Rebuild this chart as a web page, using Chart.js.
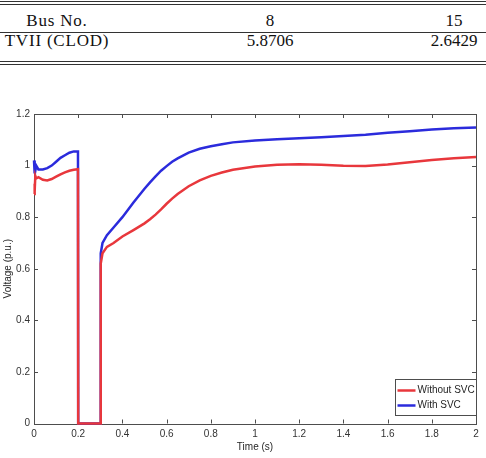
<!DOCTYPE html>
<html>
<head>
<meta charset="utf-8">
<script src="https://cdn.jsdelivr.net/npm/chart.js@4.4.0/dist/chart.umd.min.js"></script>
<style>
    html, body { margin: 0; padding: 0; background: #fff; }
    #page { position: relative; width: 486px; height: 458px; overflow: hidden; }
    .rule { position: absolute; left: 0; width: 486px; height: 1px; background: #333; }
    .cell { position: absolute; font-family: "Liberation Serif", serif; font-size: 17px; line-height: 20px;
            color: #111; white-space: nowrap; transform: translateX(-50%); }
    #chartBox { position: absolute; left: 0; top: 70px; }
</style>
</head>
<body>
<div id="page">
    <div class="rule" style="top:1px"></div>
    <div class="rule" style="top:4px"></div>
    <div id="tableCells"></div>
    <div class="rule" style="top:32px"></div>
    <div class="rule" style="top:61px"></div>
    <div class="rule" style="top:64px"></div>
    <div id="chartBox"><canvas id="voltageChart" width="486" height="388"></canvas></div>
</div>
<script>
// table above the figure
const tableHeader = ['Bus No.', '8', '15'];
const tableRow = ['TVII (CLOD)', '5.8706', '2.6429'];

// bus voltage after the fault
const timeS = [0, 0.002, 0.004, 0.006, 0.01, 0.02, 0.04, 0.06, 0.08, 0.1, 0.12, 0.14, 0.16, 0.18, 0.199,
    0.2, 0.25, 0.3, 0.301, 0.303, 0.31, 0.33, 0.36, 0.4, 0.45, 0.5, 0.525, 0.55, 0.575, 0.6, 0.625, 0.65,
    0.7, 0.75, 0.8, 0.85, 0.9, 1.0, 1.1, 1.2, 1.3, 1.4, 1.5, 1.6, 1.7, 1.8, 1.9, 2.0];
const withoutSvc = [0.89, 0.93, 0.90, 0.96, 0.95, 0.955, 0.945, 0.942, 0.948, 0.957, 0.966, 0.974, 0.98, 0.984, 0.986,
    0, 0, 0, 0.15, 0.62, 0.66, 0.685, 0.70, 0.725, 0.75, 0.776, 0.792, 0.81, 0.83, 0.852, 0.872, 0.89,
    0.92, 0.943, 0.96, 0.973, 0.984, 0.996, 1.003, 1.005, 1.003, 0.999, 0.998, 1.004, 1.013, 1.022, 1.028, 1.033];
const withSvc = [1.02, 0.97, 1.01, 0.98, 1.0, 0.985, 0.985, 0.99, 1.0, 1.015, 1.03, 1.04, 1.05, 1.055, 1.055,
    0, 0, 0, 0.41, 0.66, 0.70, 0.73, 0.76, 0.80, 0.857, 0.91, 0.935, 0.958, 0.98, 0.998, 1.015, 1.028,
    1.05, 1.065, 1.075, 1.083, 1.09, 1.097, 1.102, 1.106, 1.11, 1.115, 1.12, 1.127, 1.133, 1.14, 1.145, 1.148];
const seriesLabels = ['Without SVC', 'With SVC'];

const colCenters = [57, 270, 454];
const cells = document.getElementById('tableCells');
[[tableHeader, 11], [tableRow, 31]].forEach(([row, top]) => {
    row.forEach((txt, i) => {
        const d = document.createElement('div');
        d.className = 'cell';
        d.style.left = colCenters[i] + 'px';
        d.style.top = top + 'px';
        if (i === 0) d.style.letterSpacing = '0.8px';
        d.textContent = txt;
        cells.appendChild(d);
    });
});

const axisColor = '#4d4d4d';
const labelFont = { family: '"Liberation Sans", Arial, sans-serif', size: 10 };

// MATLAB style box, inward ticks and legend
const boxPlugin = {
    id: 'matlabBox',
    beforeDatasetsDraw(chart) {
        const { ctx, chartArea: a, scales } = chart;
        ctx.save();
        ctx.strokeStyle = axisColor;
        ctx.lineWidth = 1;
        ctx.strokeRect(Math.round(a.left) + 0.5, Math.round(a.top) + 0.5,
            Math.round(a.right - a.left), Math.round(a.bottom - a.top));
        ctx.beginPath();
        scales.x.ticks.forEach(t => {
            const px = Math.round(scales.x.getPixelForValue(t.value)) + 0.5;
            ctx.moveTo(px, a.bottom); ctx.lineTo(px, a.bottom - 4);
            ctx.moveTo(px, a.top); ctx.lineTo(px, a.top + 4);
        });
        scales.y.ticks.forEach(t => {
            const py = Math.round(scales.y.getPixelForValue(t.value)) + 0.5;
            ctx.moveTo(a.left, py); ctx.lineTo(a.left + 4, py);
            ctx.moveTo(a.right, py); ctx.lineTo(a.right - 4, py);
        });
        ctx.stroke();
        ctx.restore();
    },
    afterDatasetsDraw(chart) {
        const { ctx, chartArea: a } = chart;
        const w = 81, h = 36;
        const x0 = Math.round(a.right - w) + 0.5, y0 = Math.round(a.bottom - 9 - h) + 0.5;
        ctx.save();
        ctx.fillStyle = '#fff';
        ctx.fillRect(x0, y0, w, h);
        ctx.strokeStyle = axisColor;
        ctx.lineWidth = 1;
        ctx.strokeRect(x0, y0, w, h);
        ctx.font = `${labelFont.size}px ${labelFont.family}`;
        ctx.textBaseline = 'middle';
        chart.data.datasets.forEach((ds, i) => {
            const cy = y0 + 11 + i * 15;
            ctx.strokeStyle = ds.borderColor;
            ctx.lineWidth = 2.5;
            ctx.beginPath();
            ctx.moveTo(x0 + 2, cy); ctx.lineTo(x0 + 20, cy);
            ctx.stroke();
            ctx.fillStyle = '#262626';
            ctx.fillText(ds.label, x0 + 22, cy);
        });
        ctx.restore();
    }
};

const tickFmt = v => String(Math.round(v * 10) / 10);

new Chart(document.getElementById('voltageChart').getContext('2d'), {
    type: 'line',
    data: {
        datasets: [
            { label: seriesLabels[0], data: timeS.map((t, i) => ({ x: t, y: withoutSvc[i] })),
              borderColor: '#e8373c', borderWidth: 2.5, pointRadius: 0, clip: false },
            { label: seriesLabels[1], data: timeS.map((t, i) => ({ x: t, y: withSvc[i] })),
              borderColor: '#2b2bdc', borderWidth: 2.5, pointRadius: 0, clip: false }
        ]
    },
    options: {
        responsive: false,
        animation: false,
        devicePixelRatio: 1,
        layout: { padding: { top: 44, right: 10, left: 0, bottom: 0 } },
        plugins: { legend: { display: false }, tooltip: { enabled: false } },
        scales: {
            x: {
                type: 'linear', min: 0, max: 2,
                grid: { display: false, drawTicks: false },
                border: { display: false },
                ticks: { stepSize: 0.2, callback: tickFmt, color: '#333', font: labelFont, padding: 5, maxRotation: 0 },
                title: { display: true, text: 'Time (s)', color: '#262626', font: labelFont, padding: { top: 0, bottom: 5 } },
                afterFit: s => { s.height = 34.5; }
            },
            y: {
                min: 0, max: 1.2,
                grid: { display: false, drawTicks: false },
                border: { display: false },
                ticks: { stepSize: 0.2, callback: tickFmt, color: '#333', font: labelFont, padding: 4 },
                title: { display: true, text: 'Voltage (p.u.)', color: '#262626', font: labelFont, padding: { top: 2, bottom: 0 } },
                afterFit: s => { s.width = 34; }
            }
        }
    },
    plugins: [boxPlugin]
});
</script>
</body>
</html>
